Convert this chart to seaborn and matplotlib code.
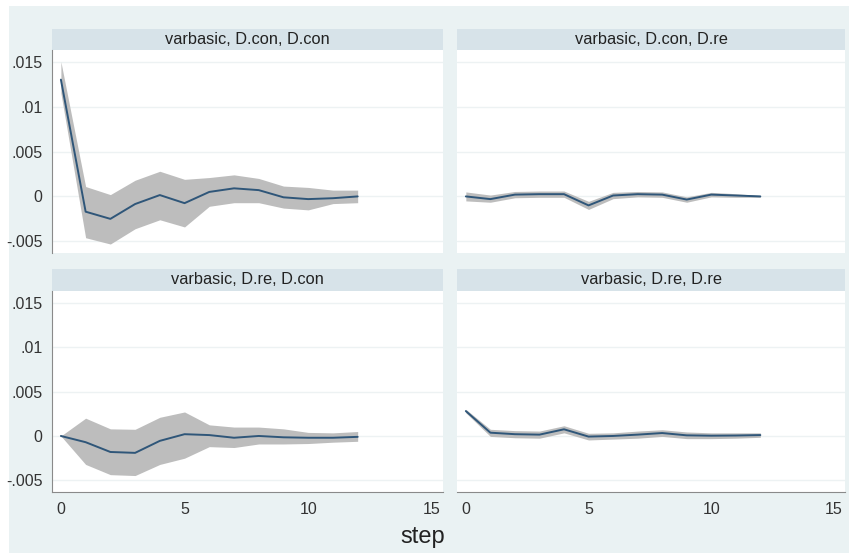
import numpy as np
import pandas as pd
import matplotlib
matplotlib.use("Agg")
import matplotlib.pyplot as plt
from matplotlib.patches import Rectangle
import seaborn as sns

sns.set_style("white")
plt.rcParams['font.family'] = ['Liberation Sans', 'DejaVu Sans']

steps = list(range(13))

titles = ["varbasic, D.con, D.con", "varbasic, D.con, D.re",
          "varbasic, D.re, D.con", "varbasic, D.re, D.re"]

irf_con_con = [0.0130, -0.0017, -0.0025, -0.00085, 0.00015, -0.00075, 0.0005,
               0.0009, 0.0007, -0.0001, -0.0003, -0.0002, 0.0000]
lo_con_con = [0.0115, -0.0046, -0.0053, -0.0036, -0.0026, -0.0034, -0.0011,
              -0.0007, -0.0007, -0.0013, -0.0015, -0.0008, -0.0007]
hi_con_con = [0.0150, 0.0011, 0.0002, 0.0018, 0.0028, 0.0019, 0.0021,
              0.0024, 0.0020, 0.00115, 0.0010, 0.0007, 0.0007]

irf_con_re = [0.0000, -0.0003, 0.0002, 0.00025, 0.00025, -0.0010, 0.0001,
              0.00025, 0.0002, -0.00035, 0.0002, 0.0001, 0.0000]
lo_con_re = [-0.0005, -0.00065, -0.00015, -0.0001, -0.0001, -0.00145, -0.00025,
             -0.00005, -0.0001, -0.00065, -0.00005, -0.0001, -0.0001]
hi_con_re = [0.0005, 0.00015, 0.00055, 0.0006, 0.0006, -0.00055, 0.00045,
             0.00055, 0.0005, -0.00005, 0.00045, 0.0003, 0.0001]

irf_re_con = [0.0000, -0.0007, -0.0018, -0.0019, -0.00055, 0.0002, 0.0001,
              -0.0002, 0.0000, -0.00015, -0.0002, -0.0002, -0.0001]
lo_re_con = [0.0000, -0.0032, -0.00435, -0.00445, -0.0032, -0.0025, -0.0012,
             -0.0013, -0.0009, -0.0009, -0.00085, -0.0007, -0.0006]
hi_re_con = [0.0000, 0.0020, 0.0008, 0.00075, 0.0021, 0.0027, 0.00125,
             0.0010, 0.0010, 0.0008, 0.0004, 0.00035, 0.0005]

irf_re_re = [0.0028, 0.00037, 0.0002, 0.00015, 0.00075, -0.00007, 0.0000,
             0.00015, 0.00033, 0.00007, 0.00003, 0.00005, 0.0001]
lo_re_re = [0.0026, -0.00005, -0.0002, -0.00025, 0.00035, -0.00045, -0.00035,
            -0.00025, -0.00005, -0.0003, -0.0003, -0.00025, -0.00015]
hi_re_re = [0.0030, 0.00075, 0.0006, 0.00055, 0.00115, 0.0003, 0.00035,
            0.00055, 0.0007, 0.00045, 0.00035, 0.00035, 0.00035]

panels = [
    (irf_con_con, lo_con_con, hi_con_con),
    (irf_con_re, lo_con_re, hi_con_re),
    (irf_re_con, lo_re_con, hi_re_con),
    (irf_re_re, lo_re_re, hi_re_re),
]

W, H = 849, 553
BG = "#eaf2f3"
STRIP = "#d7e3e9"
LINE = "#2f5679"
BAND = "#bdbdbd"
AXC = "#8a8a8a"
TXT = "#333333"

fig = plt.figure(figsize=(W / 100, H / 100), dpi=100, facecolor="white")
fig.patches.append(Rectangle((9 / W, 0), 1 - 9 / W, 1 - 6 / H,
                             transform=fig.transFigure, facecolor=BG,
                             edgecolor="none", zorder=-10))

def fx(px):
    return px / W

def fy(py):
    return 1 - py / H

cols = [(52, 443), (457, 845)]
rows = [(29, 50, 253), (269, 291, 492)]

yticks = [-0.005, 0, 0.005, 0.01, 0.015]
ylabels = ["-.005", "0", ".005", ".01", ".015"]

for i, (irf, lo, hi) in enumerate(panels):
    r, c = divmod(i, 2)
    x0, x1 = cols[c]
    s0, p0, p1 = rows[r]
    # strip
    sax = fig.add_axes([fx(x0), fy(p0), fx(x1 - x0), (p0 - s0) / H])
    sax.set_facecolor(STRIP)
    sax.set_xticks([]); sax.set_yticks([])
    for sp in sax.spines.values():
        sp.set_visible(False)
    sax.text(0.5, 0.5, titles[i], ha="center", va="center", fontsize=11.8,
             color="#222222", transform=sax.transAxes)
    ax = fig.add_axes([fx(x0), fy(p1), fx(x1 - x0), (p1 - p0) / H])
    ax.set_facecolor("white")
    df = pd.DataFrame({"step": steps, "irf": irf, "lo": lo, "hi": hi})
    ax.fill_between(df["step"], df["lo"], df["hi"], color=BAND, lw=0,
                    zorder=2)
    sns.lineplot(data=df, x="step", y="irf", ax=ax, color=LINE, lw=1.4,
                 zorder=3)
    ax.set_xlim(-0.36, 15.45)
    ax.set_ylim(-0.0063, 0.0163)
    ax.set_yticks(yticks)
    ax.set_xticks([0, 5, 10, 15])
    ax.grid(axis="y", color="#edf2f3", lw=1.0, zorder=0)
    ax.set_xlabel(""); ax.set_ylabel("")
    for name, sp in ax.spines.items():
        sp.set_visible(False)
    ax.tick_params(axis="both", colors=AXC, labelcolor=TXT, labelsize=11.5,
                   length=5, width=1, pad=2)
    if c == 0:
        ax.spines["left"].set_visible(True)
        ax.spines["left"].set_color(AXC)
        ax.set_yticklabels(ylabels)
    else:
        ax.tick_params(axis="y", left=False, labelleft=False)
    if r == 1:
        ax.spines["bottom"].set_visible(True)
        ax.spines["bottom"].set_color(AXC)
        ax.set_xticklabels(["0", "5", "10", "15"])
    else:
        ax.tick_params(axis="x", bottom=False, labelbottom=False)

fig.text(fx(423), fy(537), "step", ha="center", va="center", fontsize=17,
         color="#222222")

fig.savefig("out.png", dpi=100, facecolor=fig.get_facecolor())
